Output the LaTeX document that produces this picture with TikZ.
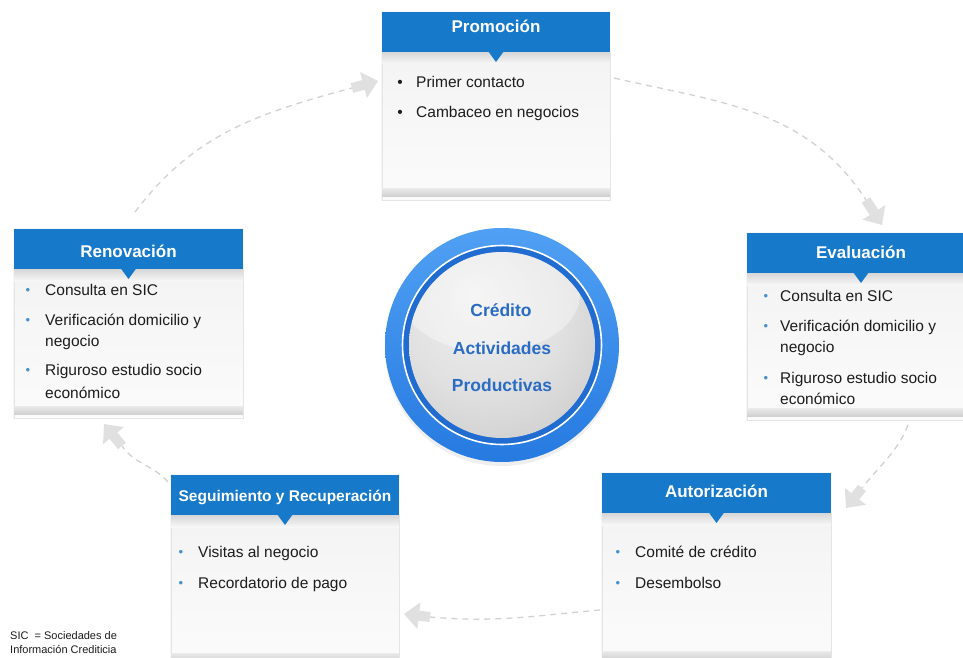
\documentclass[tikz,border=0pt]{standalone}
\usepackage{fontspec}
\setmainfont{Liberation Sans}
\usetikzlibrary{arrows.meta,shadings}

\definecolor{hdrblue}{RGB}{22,121,202}
\definecolor{bodytxt}{RGB}{28,28,28}
\definecolor{bulblue}{RGB}{70,145,210}
\definecolor{ctrtxt}{RGB}{42,108,196}
\definecolor{ringtop}{RGB}{80,160,244}
\definecolor{ringbot}{RGB}{38,122,224}
\definecolor{ringin}{RGB}{32,108,208}
\pgfdeclareradialshading{ballgray}{\pgfpoint{-8bp}{14bp}}{color(0bp)=(gray!12); color(22bp)=(gray!24); color(42bp)=(gray!44); color(64bp)=(gray!62)}

% name, left, top, width, height, title, title baseline offset
\newcommand\procbox[7]{%
  \fill[gray!7] (#2-1,#3-1) rectangle (#2+#4+1,#3+#5+1);
  \shade[top color=gray!9, bottom color=gray!3] (#2,#3+40) rectangle (#2+#4,#3+#5);
  \draw[gray!20] (#2,#3+40) rectangle (#2+#4,#3+#5);
  \shade[top color=gray!32, bottom color=gray!6] (#2,#3+40) rectangle (#2+#4,#3+52);
  \shade[top color=gray!16, bottom color=gray!36] (#2,#3+#5-12) rectangle (#2+#4,#3+#5-4);
  \fill[hdrblue] (#2,#3) rectangle (#2+#4,#3+40);
  \fill[hdrblue] (#2+#4/2-8,#3+39) -- (#2+#4/2+8,#3+39) -- (#2+#4/2,#3+50) -- cycle;
  \node[boxtitle] (#1) at (#2+#4/2,#3+#7) {#6};
}
\newcommand\bline[4]{\node[bodyline] (#1) at (#2,#3) {#4};}
\newcommand\bbul[1]{\llap{\raisebox{0.8pt}{\textcolor{bulblue}{\fontsize{13}{13}\selectfont •}}\hspace{#1pt}}}
\newcommand\kbul[1]{\llap{•\hspace{#1pt}}}

\begin{document}
\begin{tikzpicture}[x=1pt,y=-1pt,
  boxtitle/.style={anchor=base, inner sep=0pt, text=white, font=\fontsize{17}{20}\selectfont\bfseries},
  bodyline/.style={anchor=base west, inner sep=0pt, text=bodytxt, font=\fontsize{15.5}{21}\selectfont},
  ctrtext/.style={anchor=base, inner sep=0pt, text=ctrtxt, font=\fontsize{17.5}{20}\selectfont\bfseries},
  flow/.style={draw=gray!35, line width=1.3pt, dash pattern=on 6pt off 5pt},
  fatarr/.style={line width=10pt, draw=gray!24, -{Triangle[width=26pt,length=15pt,fill=gray!24]}},
  note/.style={anchor=north west, inner sep=0pt, align=left, text=bodytxt, font=\fontsize{11}{14}\selectfont}
]
\useasboundingbox (0,0) rectangle (963,658);
\fill[white] (0,0) rectangle (963,658);

% ---- central hub ----
\node[circle, minimum size=234pt, inner sep=0pt] (hub) at (502,345) {};
\fill[gray!30, opacity=.4] ([yshift=-4pt]hub.center) circle (117pt);
\shade[top color=ringtop, bottom color=ringbot] (hub.center) circle (117pt);
\fill[ringin] (hub.center) circle (99pt);
\draw[white, line width=1.6pt] (hub.center) circle (99.5pt);
\shade[shading=ballgray] (hub.center) circle (93pt);
\begin{scope}
  \clip (hub.center) circle (93pt);
  \fill[white, opacity=.38] (490,294) ellipse [x radius=90pt, y radius=58pt];
\end{scope}
\node[ctrtext] (c1) at (501,316.3) {Crédito};
\node[ctrtext] (c2) at (502,354.3) {Actividades};
\node[ctrtext] (c3) at (502,391.3) {Productivas};

% ---- boxes ----
\procbox{prom}{382}{12}{228}{188}{Promoción}{21}
\bline{prom1}{416}{87.5}{\kbul{13.3}Primer contacto}
\bline{prom2}{416}{117.5}{\kbul{13.3}Cambaceo en negocios}

\procbox{eval}{747}{233}{228}{187}{Evaluación}{25}
\bline{eval1}{780}{301.5}{\bbul{12}Consulta en SIC}
\bline{eval2}{780}{331.5}{\bbul{12}Verificación domicilio y}
\bline{eval3}{780}{352.5}{negocio}
\bline{eval4}{780}{383.5}{\bbul{12}Riguroso estudio socio}
\bline{eval5}{780}{404.5}{económico}

\procbox{auto}{602}{473}{229}{190}{Autorización}{24}
\bline{auto1}{635}{557.5}{\bbul{15}Comité de crédito}
\bline{auto2}{635}{588.5}{\bbul{15}Desembolso}

\procbox{seg}{171}{475}{228}{190}{{\fontsize{15.5}{18}\selectfont\bfseries Seguimiento y Recuperación}}{26}
\bline{seg1}{198}{557.5}{\bbul{15}Visitas al negocio}
\bline{seg2}{198}{588.5}{\bbul{15}Recordatorio de pago}

\procbox{ren}{14}{229}{229}{189}{Renovación}{28}
\bline{ren1}{45}{295.5}{\bbul{15}Consulta en SIC}
\bline{ren2}{45}{325.5}{\bbul{15}Verificación domicilio y}
\bline{ren3}{45}{346.5}{negocio}
\bline{ren4}{45}{375.5}{\bbul{15}Riguroso estudio socio}
\bline{ren5}{45}{398.5}{económico}

% ---- flow connectors ----
\coordinate (a1) at (135,212);  \coordinate (a2) at (352,88);  \coordinate (a3) at (378,81);
\coordinate (b1) at (614,78);   \coordinate (b2) at (866,200); \coordinate (b3) at (882,225);
\coordinate (c1) at (908,425);  \coordinate (c2) at (862,488); \coordinate (c3) at (846,508);
\coordinate (d1) at (600,610);  \coordinate (d2) at (430,617); \coordinate (d3) at (404,614);
\coordinate (e1) at (168,482);  \coordinate (e2) at (122,446); \coordinate (e3) at (104,424);

\draw[flow] (a1) to[out=53, in=195] (a2);
\draw[flow] (b1) to[out=-13, in=123] (b2);
\draw[flow] (c1) to[out=248, in=52] (c2);
\draw[flow] (d1) to[out=185, in=-5] (d2);
\draw[flow] (e1) to[out=131, in=-55] (e2);
\draw[fatarr] (a2) -- (a3);
\draw[fatarr] (b2) -- (b3);
\draw[fatarr] (c2) -- (c3);
\draw[fatarr] (d2) -- (d3);
\draw[fatarr] (e2) -- (e3);

% ---- footnote ----
\node[note] (fn) at (10,631) {SIC \ = Sociedades de\\Información Crediticia};
\end{tikzpicture}
\end{document}
